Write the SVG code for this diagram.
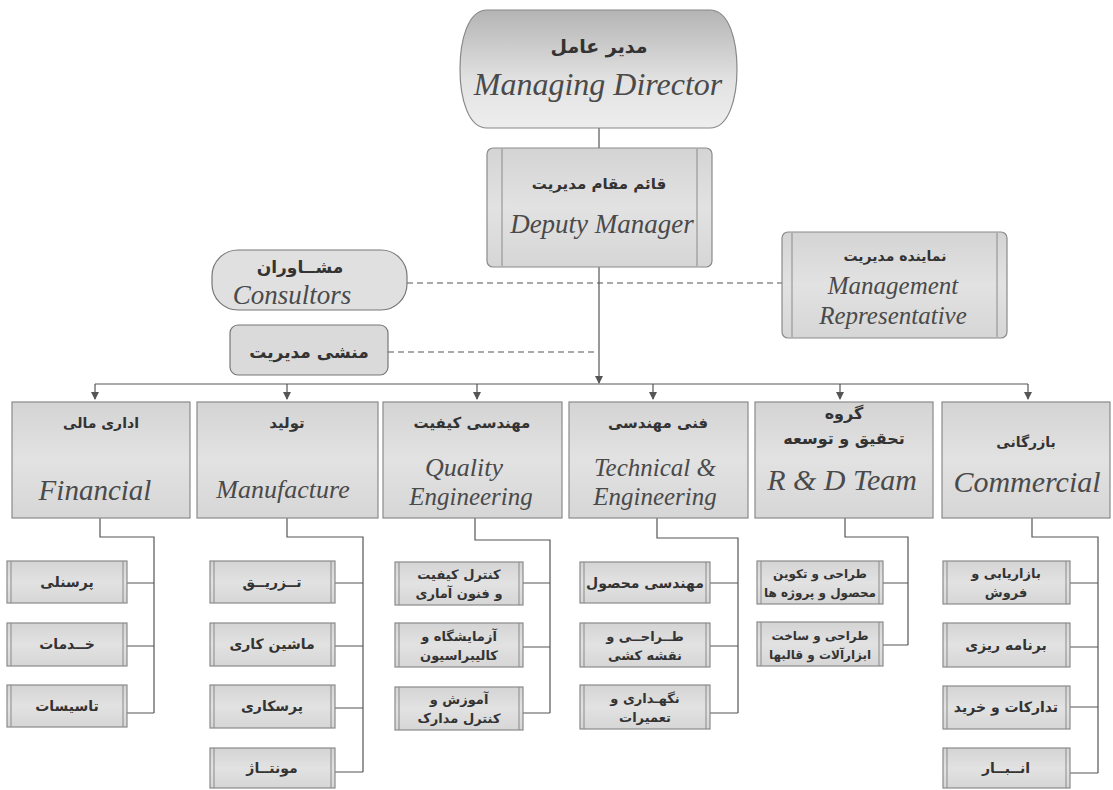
<svg xmlns="http://www.w3.org/2000/svg" width="1113" height="790" viewBox="0 0 1113 790">
<style>
.fa{font-family:"DejaVu Sans",sans-serif;font-weight:bold;text-anchor:middle;fill:#333}
.en{font-family:"Liberation Serif",serif;font-style:italic;text-anchor:middle;fill:#4a4a4a}
.box{fill:url(#g1);stroke:#8a8a8a;stroke-width:1.2}
.sub{fill:url(#g1);stroke:#8a8a8a;stroke-width:1.2}
.inner{stroke:#8a8a8a;stroke-width:1}
.ln{fill:none;stroke:#555;stroke-width:1.2}
.dash{fill:none;stroke:#555;stroke-width:1.2;stroke-dasharray:6,4}
</style>
<defs>
<linearGradient id="g1" x1="0" y1="0" x2="0" y2="1">
<stop offset="0" stop-color="#d4d4d4"/><stop offset="0.5" stop-color="#e2e2e2"/><stop offset="1" stop-color="#d6d6d6"/>
</linearGradient>
<linearGradient id="g2" x1="0" y1="0" x2="0" y2="1">
<stop offset="0" stop-color="#b4b4b4"/><stop offset="0.6" stop-color="#e2e2e2"/><stop offset="1" stop-color="#eeeeee"/>
</linearGradient>
</defs>
<rect width="1113" height="790" fill="#ffffff"/>

<g id="connectors">
<line class="ln" x1="599" y1="128" x2="599" y2="148"/>
<path class="ln" d="M599,267 V383" />
<path d="M595,376 L603,376 L599,384 z" fill="#555"/>
<line class="ln" x1="95" y1="384" x2="1028" y2="384"/>
<path class="ln" d="M95,384 V399"/><path d="M91,392 L99,392 L95,400 z" fill="#555"/>
<path class="ln" d="M287,384 V399"/><path d="M283,392 L291,392 L287,400 z" fill="#555"/>
<path class="ln" d="M477,384 V399"/><path d="M473,392 L481,392 L477,400 z" fill="#555"/>
<path class="ln" d="M653,384 V399"/><path d="M649,392 L657,392 L653,400 z" fill="#555"/>
<path class="ln" d="M840,384 V399"/><path d="M836,392 L844,392 L840,400 z" fill="#555"/>
<path class="ln" d="M1028,384 V399"/><path d="M1024,392 L1032,392 L1028,400 z" fill="#555"/>
<line class="dash" x1="407" y1="283" x2="782" y2="283"/>
<line class="dash" x1="388" y1="352" x2="598" y2="352"/>
<path class="ln" d="M100,518 V537 H154 V713"/>
<path class="ln" d="M127,583 H154 M127,646 H154 M127,713 H154"/>
<path class="ln" d="M287,518 V537 H363 V772"/>
<path class="ln" d="M335,583 H363 M335,646 H363 M335,708 H363 M335,772 H363"/>
<path class="ln" d="M475,518 V540 H550 V713"/>
<path class="ln" d="M523,583 H550 M523,647 H550 M523,713 H550"/>
<path class="ln" d="M657,518 V538 H738 V713"/>
<path class="ln" d="M710,583 H738 M710,646 H738 M710,713 H738"/>
<path class="ln" d="M845,518 V537 H908 V645"/>
<path class="ln" d="M883,583 H908 M883,645 H908"/>
<path class="ln" d="M1032,518 V537 H1098 V773"/>
<path class="ln" d="M1070,583 H1098 M1070,647 H1098 M1070,707 H1098 M1070,773 H1098"/>
</g>

<g id="managing-director">
<path d="M487,10 H710 C729,10 737,40 737,69 C737,98 729,128 710,128 H487 C468,128 460,98 460,69 C460,40 468,10 487,10 z" fill="url(#g2)" stroke="#888" stroke-width="1.2"/>
<text class="fa" x="599" y="53" font-size="19">مدیر عامل</text>
<text class="en" x="598" y="95" font-size="32">Managing  Director</text>
</g>

<g id="deputy-manager">
<rect class="box" x="487" y="148" width="225" height="119" rx="6"/>
<line class="inner" x1="502" y1="149" x2="502" y2="266"/>
<line class="inner" x1="697" y1="149" x2="697" y2="266"/>
<text class="fa" x="599" y="189" font-size="15">قائم مقام مدیریت</text>
<text class="en" x="602" y="233" font-size="27">Deputy Manager</text>
</g>

<g id="consultors">
<rect x="212" y="250" width="195" height="60" rx="26" fill="#e0e0e0" stroke="#777" stroke-width="1.2"/>
<text class="fa" x="300" y="273" font-size="17">مشــاوران</text>
<text class="en" x="292" y="304" font-size="27">Consultors</text>
</g>

<g id="secretary">
<rect x="230" y="325" width="158" height="50" rx="8" fill="#dadada" stroke="#777" stroke-width="1.2"/>
<text class="fa" x="309" y="358" font-size="17">منشی مدیریت</text>
</g>

<g id="management-representative">
<rect class="box" x="782" y="232" width="225" height="106" rx="6"/>
<line class="inner" x1="792" y1="233" x2="792" y2="337"/>
<line class="inner" x1="997" y1="233" x2="997" y2="337"/>
<text class="fa" x="895" y="261" font-size="14">نماینده مدیریت</text>
<text class="en" x="893" y="294" font-size="25">Management</text>
<text class="en" x="893" y="324" font-size="25">Representative</text>
</g>

<g id="financial">
<rect class="box" x="12" y="402" width="178" height="116"/>
<text class="fa" x="101" y="428" font-size="14">اداری مالی</text>
<text class="en" x="95" y="500" font-size="29">Financial</text>
</g>
<g id="manufacture">
<rect class="box" x="197" y="402" width="181" height="116"/>
<text class="fa" x="287" y="428" font-size="15">تولید</text>
<text class="en" x="283" y="498" font-size="26">Manufacture</text>
</g>
<g id="quality">
<rect class="box" x="383" y="402" width="179" height="116"/>
<text class="fa" x="472" y="428" font-size="15" fill="#111">مهندسی کیفیت</text>
<text class="en" x="464" y="476" font-size="26" fill="#222">Quality</text>
<text class="en" x="471" y="505" font-size="25" fill="#222">Engineering</text>
</g>
<g id="technical">
<rect class="box" x="569" y="402" width="179" height="116"/>
<text class="fa" x="658" y="428" font-size="15" fill="#444">فنی مهندسی</text>
<text class="en" x="655" y="476" font-size="25">Technical &amp;</text>
<text class="en" x="655" y="505" font-size="25">Engineering</text>
</g>
<g id="rnd">
<rect class="box" x="755" y="402" width="178" height="116"/>
<text class="fa" x="844" y="419" font-size="16" fill="#111">گروه</text>
<text class="fa" x="844" y="444" font-size="16" fill="#111">تحقیق و توسعه</text>
<text class="en" x="842" y="490" font-size="30" fill="#222">R &amp; D Team</text>
</g>
<g id="commercial">
<rect class="box" x="942" y="402" width="168" height="116"/>
<text class="fa" x="1026" y="447" font-size="14" fill="#444">بازرگانی</text>
<text class="en" x="1027" y="492" font-size="30">Commercial</text>
</g>

<g id="f1"><rect class="sub" x="7" y="561" width="120" height="42"/><line class="inner" x1="11" y1="561" x2="11" y2="603"/><line class="inner" x1="123" y1="561" x2="123" y2="603"/><text class="fa" x="67" y="587" font-size="14">پرسنلی</text></g>
<g id="f2"><rect class="sub" x="7" y="623" width="120" height="43"/><line class="inner" x1="11" y1="623" x2="11" y2="666"/><line class="inner" x1="123" y1="623" x2="123" y2="666"/><text class="fa" x="67" y="649" font-size="14">خــدمات</text></g>
<g id="f3"><rect class="sub" x="7" y="685" width="120" height="42"/><line class="inner" x1="11" y1="685" x2="11" y2="727"/><line class="inner" x1="123" y1="685" x2="123" y2="727"/><text class="fa" x="67" y="711" font-size="14">تاسیسات</text></g>

<g id="m1"><rect class="sub" x="210" y="561" width="125" height="42"/><line class="inner" x1="214" y1="561" x2="214" y2="603"/><line class="inner" x1="331" y1="561" x2="331" y2="603"/><text class="fa" x="272" y="587" font-size="14">تــزریــق</text></g>
<g id="m2"><rect class="sub" x="210" y="623" width="125" height="43"/><line class="inner" x1="214" y1="623" x2="214" y2="666"/><line class="inner" x1="331" y1="623" x2="331" y2="666"/><text class="fa" x="272" y="649" font-size="14">ماشین کاری</text></g>
<g id="m3"><rect class="sub" x="210" y="685" width="125" height="43"/><line class="inner" x1="214" y1="685" x2="214" y2="728"/><line class="inner" x1="331" y1="685" x2="331" y2="728"/><text class="fa" x="272" y="711" font-size="14">پرسکاری</text></g>
<g id="m4"><rect class="sub" x="210" y="748" width="125" height="40"/><line class="inner" x1="214" y1="748" x2="214" y2="788"/><line class="inner" x1="331" y1="748" x2="331" y2="788"/><text class="fa" x="272" y="773" font-size="14">مونتــاژ</text></g>

<g id="q1"><rect class="sub" x="395" y="562" width="128" height="43"/><line class="inner" x1="399" y1="562" x2="399" y2="605"/><line class="inner" x1="519" y1="562" x2="519" y2="605"/><text class="fa" x="459" y="579" font-size="13">کنترل کیفیت</text><text class="fa" x="459" y="598" font-size="13">و فنون آماری</text></g>
<g id="q2"><rect class="sub" x="395" y="623" width="128" height="44"/><line class="inner" x1="399" y1="623" x2="399" y2="667"/><line class="inner" x1="519" y1="623" x2="519" y2="667"/><text class="fa" x="459" y="641" font-size="13">آزمایشگاه و</text><text class="fa" x="459" y="660" font-size="13">کالیبراسیون</text></g>
<g id="q3"><rect class="sub" x="395" y="687" width="128" height="43"/><line class="inner" x1="399" y1="687" x2="399" y2="730"/><line class="inner" x1="519" y1="687" x2="519" y2="730"/><text class="fa" x="459" y="704" font-size="13">آموزش و</text><text class="fa" x="459" y="723" font-size="13">کنترل مدارک</text></g>

<g id="t1"><rect class="sub" x="580" y="562" width="130" height="41"/><line class="inner" x1="584" y1="562" x2="584" y2="603"/><line class="inner" x1="706" y1="562" x2="706" y2="603"/><text class="fa" x="645" y="588" font-size="14">مهندسی محصول</text></g>
<g id="t2"><rect class="sub" x="580" y="623" width="130" height="44"/><line class="inner" x1="584" y1="623" x2="584" y2="667"/><line class="inner" x1="706" y1="623" x2="706" y2="667"/><text class="fa" x="645" y="641" font-size="13">طــراحــی و</text><text class="fa" x="645" y="660" font-size="13">نقشه کشی</text></g>
<g id="t3"><rect class="sub" x="580" y="685" width="130" height="44"/><line class="inner" x1="584" y1="685" x2="584" y2="729"/><line class="inner" x1="706" y1="685" x2="706" y2="729"/><text class="fa" x="645" y="703" font-size="13">نگهـداری و</text><text class="fa" x="645" y="722" font-size="13">تعمیرات</text></g>

<g id="r1"><rect class="sub" x="757" y="561" width="126" height="43"/><line class="inner" x1="761" y1="561" x2="761" y2="604"/><line class="inner" x1="879" y1="561" x2="879" y2="604"/><text class="fa" x="820" y="578" font-size="12">طراحی و تکوین</text><text class="fa" x="820" y="597" font-size="12">محصول و پروژه ها</text></g>
<g id="r2"><rect class="sub" x="757" y="622" width="126" height="44"/><line class="inner" x1="761" y1="622" x2="761" y2="666"/><line class="inner" x1="879" y1="622" x2="879" y2="666"/><text class="fa" x="820" y="640" font-size="12">طراحی و ساخت</text><text class="fa" x="820" y="659" font-size="12">ابزارآلات و قالبها</text></g>

<g id="c1"><rect class="sub" x="943" y="561" width="127" height="43"/><line class="inner" x1="947" y1="561" x2="947" y2="604"/><line class="inner" x1="1066" y1="561" x2="1066" y2="604"/><text class="fa" x="1006" y="578" font-size="13">بازاریابی و</text><text class="fa" x="1006" y="597" font-size="13">فروش</text></g>
<g id="c2"><rect class="sub" x="943" y="623" width="127" height="44"/><line class="inner" x1="947" y1="623" x2="947" y2="667"/><line class="inner" x1="1066" y1="623" x2="1066" y2="667"/><text class="fa" x="1006" y="650" font-size="14">برنامه ریزی</text></g>
<g id="c3"><rect class="sub" x="943" y="686" width="127" height="43"/><line class="inner" x1="947" y1="686" x2="947" y2="729"/><line class="inner" x1="1066" y1="686" x2="1066" y2="729"/><text class="fa" x="1006" y="712" font-size="14">تدارکات و خرید</text></g>
<g id="c4"><rect class="sub" x="943" y="748" width="127" height="40"/><line class="inner" x1="947" y1="748" x2="947" y2="788"/><line class="inner" x1="1066" y1="748" x2="1066" y2="788"/><text class="fa" x="1006" y="773" font-size="14">انــبــار</text></g>
</svg>
